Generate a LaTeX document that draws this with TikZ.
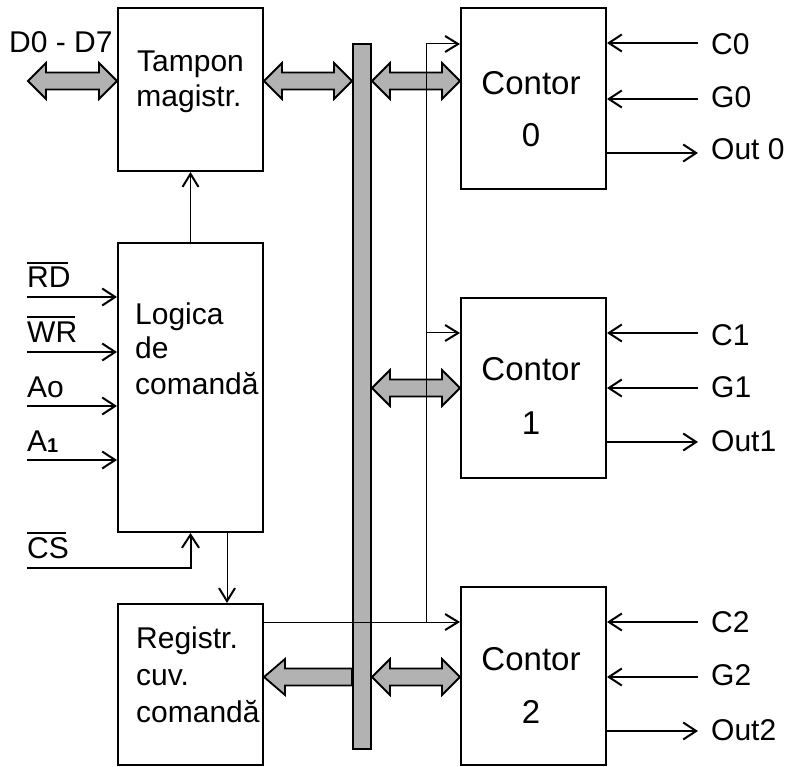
\documentclass[tikz,border=0pt]{standalone}
\usepackage{fontspec}
\setmainfont{Liberation Sans}
\usetikzlibrary{arrows.meta,calc}
\newcommand\fatdbl[2]{\path[fat] let \p1=(#1), \p2=(#2) in
 (\x1,\y1) -- (\x1+18pt,\y1+18pt) -- (\x1+18pt,\y1+8.5pt) -- (\x2-18pt,\y1+8.5pt) -- (\x2-18pt,\y1+18pt) -- (\x2,\y1) -- (\x2-18pt,\y1-18pt) -- (\x2-18pt,\y1-8.5pt) -- (\x1+18pt,\y1-8.5pt) -- (\x1+18pt,\y1-18pt) -- cycle;}
\newcommand\fatleft[2]{\path[fat] let \p1=(#1), \p2=(#2) in
 (\x1,\y1) -- (\x1+21pt,\y1+18pt) -- (\x1+21pt,\y1+8.5pt) -- (\x2,\y1+8.5pt) -- (\x2,\y1-8.5pt) -- (\x1+21pt,\y1-8.5pt) -- (\x1+21pt,\y1-18pt) -- cycle;}
\begin{document}
\begin{tikzpicture}[x=1pt,y=-1pt,
  box/.style={draw,line width=2pt,minimum width=145pt,inner sep=0pt},
  txt/.style={inner sep=0pt,font=\fontsize{30}{36}\selectfont},
  big/.style={inner sep=0pt,font=\fontsize{33}{40}\selectfont},
  sig/.style={line width=2pt,-{Straight Barb[length=13pt,width=17pt]}},
  thinline/.style={line width=1pt},
  thinarr/.style={line width=1pt,-{Straight Barb[length=13pt,width=16pt,line width=2pt]}},
  fat/.style={draw,line width=1.8pt,fill=gray!60,line join=miter},
  busst/.style={draw,line width=2pt,fill=gray!60,inner sep=0pt,minimum width=18pt,minimum height=705pt},
  ovl/.style={line width=1.8pt},
]
\useasboundingbox (0,0) rectangle (790,767);

% blocks
\node[box,minimum height=163pt] (tampon) at (190.5,89.5) {};
\node[box,minimum height=289pt] (logica) at (190.5,387.5) {};
\node[box,minimum height=161pt] (registr) at (190.5,684.5) {};
\node[box,minimum height=181pt] (c0) at (533.5,98.5) {};
\node[box,minimum height=180pt] (c1) at (533.5,388) {};
\node[box,minimum height=178pt] (c2) at (533.5,676) {};
\node[busst] (bus) at (362,396.5) {};

% block texts
\node[txt,anchor=base] (t1) at (190.5,72) {Tampon};
\node[txt,anchor=base] (t2) at (189,107) {magistr.};
\node[txt,anchor=base west] (l1) at (135,325) {Logica};
\node[txt,anchor=base west] (l2) at (135,359) {de};
\node[txt,anchor=base west] (l3) at (135,394) {comandă};
\node[txt,anchor=base west] (r1) at (136,648) {Registr.};
\node[txt,anchor=base west] (r2) at (136,685) {cuv.};
\node[txt,anchor=base west] (r3) at (136,722) {comandă};
\node[big,anchor=base] (k0a) at (531,95) {Contor};
\node[big,anchor=base] (k0b) at (531,147) {0};
\node[big,anchor=base] (k1a) at (531,381) {Contor};
\node[big,anchor=base] (k1b) at (531,434) {1};
\node[big,anchor=base] (k2a) at (531,670) {Contor};
\node[big,anchor=base] (k2b) at (531,723) {2};

% fat bus arrows
\coordinate (yA) at (0,81);
\coordinate (yB) at (0,388);
\coordinate (yC) at (0,677);
\coordinate (dext) at (28,81);
\fatdbl{dext}{tampon.west|-yA}
\fatdbl{tampon.east|-yA}{bus.west|-yA}
\fatdbl{bus.east|-yA}{c0.west|-yA}
\fatdbl{bus.east|-yB}{c1.west|-yB}
\fatdbl{bus.east|-yC}{c2.west|-yC}
\fatleft{registr.east|-yC}{bus.west|-yC}
\node[txt,anchor=base west] (dl) at (9,53) {D0 - D7};

% control inputs of the logic block
\coordinate (rdS) at (27,297);
\coordinate (wrS) at (27,352);
\coordinate (aoS) at (27,406);
\coordinate (a1S) at (27,460);
\coordinate (csS) at (27,568);
\draw[sig] (rdS) -- (logica.west|-rdS);
\draw[sig] (wrS) -- (logica.west|-wrS);
\draw[sig] (aoS) -- (logica.west|-aoS);
\draw[sig] (a1S) -- (logica.west|-a1S);
\draw[sig] (csS) -- (csS-|logica.south) -- (logica.south);
\node[txt,anchor=base west] (rdL) at (27,288) {RD};
\node[txt,anchor=base west] (wrL) at (27,342) {WR};
\node[txt,anchor=base west] (aoL) at (27,397) {Ao};
\node[txt,anchor=base west] (a1L) at (27,451) {A\raisebox{-1.5pt}{\fontsize{20}{20}\selectfont\bfseries 1}};
\node[txt,anchor=base west] (csL) at (27,558) {CS};
\draw[ovl] ([yshift=4pt]rdL.north west) -- ([yshift=4pt,xshift=-3pt]rdL.north east);
\draw[ovl] ([yshift=4pt]wrL.north west) -- ([yshift=4pt,xshift=-2pt]wrL.north east);
\draw[ovl] ([yshift=4pt]csL.north west) -- ([yshift=4pt,xshift=-3pt]csL.north east);

% counter inputs / outputs
\foreach \k/\yc/\yg/\yo/\bc/\bg/\bo/\nm in {0/43/99/153/55/108/160/Out 0,1/333/388/442/345/397/451/Out1,2/622/677/731/632/685/740/Out2}{
  \coordinate (cin\k) at (698,\yc);
  \coordinate (gin\k) at (698,\yg);
  \coordinate (out\k) at (698,\yo);
  \draw[sig] (cin\k) -- (c\k.east|-cin\k);
  \draw[sig] (gin\k) -- (c\k.east|-gin\k);
  \draw[sig] (c\k.east|-out\k) -- (out\k);
  \node[txt,anchor=base west] (cl\k) at (711,\bc) {C\k};
  \node[txt,anchor=base west] (gl\k) at (711,\bg) {G\k};
  \node[txt,anchor=base west] (ol\k) at (711,\bo) {\nm};
}

% thin control lines
\coordinate (jt) at (426,44);
\coordinate (jm) at (426,333);
\coordinate (jb) at (426,622);
\coordinate (xr) at (227,0);
\draw[thinline] (registr.east|-jb) -- (jb) -- (jt);
\draw[thinarr] (jt) -- (c0.west|-jt);
\draw[thinarr] (jm) -- (c1.west|-jm);
\draw[thinarr] (jb) -- (c2.west|-jb);
\draw[thinarr] (logica.north) -- (tampon.south);
\draw[thinarr] (logica.south-|xr) -- (registr.north-|xr);
\end{tikzpicture}
\end{document}
